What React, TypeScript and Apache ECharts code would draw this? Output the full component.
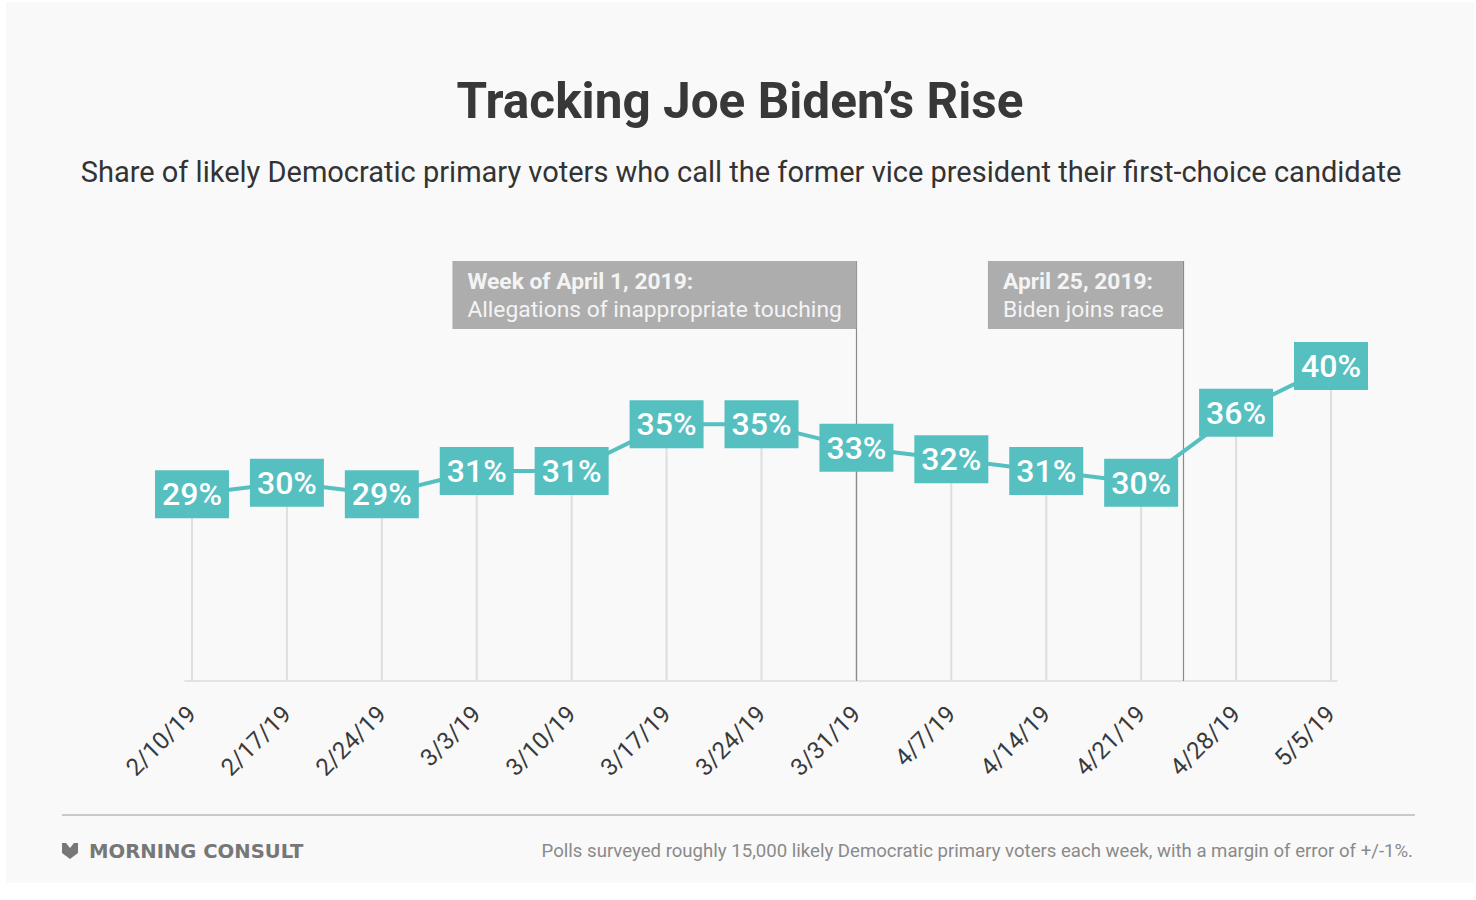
import React, { useEffect, useRef } from "react";
import * as echarts from "echarts";

const weeks = ["2/10/19", "2/17/19", "2/24/19", "3/3/19", "3/10/19", "3/17/19", "3/24/19", "3/31/19", "4/7/19", "4/14/19", "4/21/19", "4/28/19", "5/5/19"];
const bidenShare = [29, 30, 29, 31, 31, 35, 35, 33, 32, 31, 30, 36, 40];
const annotationPositions = [7, 10.44];
const annotationTitles = ["Week of April 1, 2019:", "April 25, 2019:"];
const annotationTexts = ["Allegations of inappropriate touching", "Biden joins race"];
const annotationBoxWidths = [374, 165];

const TITLE = "Tracking Joe Biden\u2019s Rise";
const SUBTITLE = "Share of likely Democratic primary voters who call the former vice president their first-choice candidate";
const FOOTNOTE = "Polls surveyed roughly 15,000 likely Democratic primary voters each week, with a margin of error of +/-1%.";

const TEAL = "#56c0c1";
const Y_MIN = 13;
const Y_MAX = 49;

export default function App() {
  const ref = useRef<HTMLDivElement>(null);
  useEffect(() => {
    document.body.style.margin = "0";
    const chart = echarts.init(ref.current!, null, { renderer: "svg" });
    const gridMain = { left: 192, right: 145, top: 261, bottom: 219 };
    const option: any = {
      animation: false,
      backgroundColor: "#ffffff",
      textStyle: { fontFamily: "Roboto" },
      grid: [gridMain, { left: 185, right: 139, top: 261, bottom: 219 }],
      xAxis: [
        {
          type: "category",
          gridIndex: 0,
          data: weeks,
          boundaryGap: false,
          axisLine: { show: false },
          axisTick: { show: false },
          splitLine: { show: false },
          axisLabel: { rotate: 45, fontSize: 24, color: "#3a3a3a", margin: 29, fontFamily: "Roboto" },
        },
        { type: "value", gridIndex: 0, min: 0, max: weeks.length - 1, show: false },
        {
          type: "value",
          gridIndex: 1,
          min: 0,
          max: 1,
          axisLine: { show: true, lineStyle: { color: "#dcdcdc", width: 1.5 } },
          axisTick: { show: false },
          axisLabel: { show: false },
          splitLine: { show: false },
        },
      ],
      yAxis: [
        { type: "value", gridIndex: 0, min: Y_MIN, max: Y_MAX, show: false },
        { type: "value", gridIndex: 1, min: 0, max: 1, show: false },
      ],
      series: [
        {
          type: "bar",
          xAxisIndex: 0,
          yAxisIndex: 0,
          data: bidenShare,
          barWidth: 2,
          itemStyle: { color: "#dedede" },
          z: 1,
          silent: true,
        },
        {
          type: "line",
          xAxisIndex: 1,
          yAxisIndex: 0,
          data: [],
          z: 2,
          markLine: {
            silent: true,
            symbol: "none",
            label: { show: false },
            lineStyle: { color: "#8a8a8a", width: 1.2, type: "solid" },
            data: annotationPositions.map((p) => [{ coord: [p, Y_MIN] }, { coord: [p, Y_MAX] }]),
          },
          markPoint: {
            silent: true,
            symbol: "rect",
            symbolSize: 0,
            data: annotationPositions.map((p, i) => ({
              coord: [p, Y_MAX],
              label: {
                show: true,
                position: [-(annotationBoxWidths[i] + 30), 0],
                align: "left",
                verticalAlign: "top",
                width: annotationBoxWidths[i],
                backgroundColor: "#adadad",
                padding: [6, 15, 6, 15],
                formatter: "{b|" + annotationTitles[i] + "}\n{r|" + annotationTexts[i] + "}",
                rich: {
                  b: { fontSize: 22.8, fontWeight: "bold", color: "#f4f4f4", lineHeight: 28, fontFamily: "Roboto" },
                  r: { fontSize: 22.8, fontWeight: "normal", color: "#f4f4f4", lineHeight: 28, fontFamily: "Roboto" },
                },
              },
            })),
          },
        },
        {
          type: "line",
          xAxisIndex: 0,
          yAxisIndex: 0,
          data: bidenShare,
          z: 5,
          symbol: "circle",
          symbolSize: 1,
          itemStyle: { color: TEAL },
          lineStyle: { color: TEAL, width: 4 },
          label: {
            show: true,
            position: "inside",
            formatter: "{c}%",
            fontSize: 32,
            fontWeight: 500,
            fontFamily: "Roboto",
            color: "#ffffff",
            backgroundColor: TEAL,
            width: 58,
            align: "center",
            lineHeight: 36,
            padding: [6, 8, 6, 8],
          },
        },
      ],
      graphic: [
        { type: "rect", z: -10, silent: true, shape: { x: 6, y: 2, width: 1468, height: 881 }, style: { fill: "#f9f9f9" } },
        {
          type: "text",
          x: 740,
          y: 101,
          style: { text: TITLE, fontSize: 49.5, fontWeight: "bold", fontFamily: "Roboto", fill: "#383838", align: "center", verticalAlign: "middle" },
        },
        {
          type: "text",
          x: 741,
          y: 172,
          style: { text: SUBTITLE, fontSize: 29, fontFamily: "Roboto", fill: "#333333", align: "center", verticalAlign: "middle" },
        },
        { type: "line", shape: { x1: 62, y1: 815, x2: 1415, y2: 815 }, style: { stroke: "#9a9a9a", lineWidth: 1 } },
        {
          type: "polygon",
          shape: { points: [[62, 843], [66, 843], [70, 848], [74, 843], [78, 843], [78, 853], [70, 859], [62, 853]] },
          style: { fill: "#777777" },
        },
        {
          type: "text",
          x: 89,
          y: 851,
          style: { text: "MORNING CONSULT", fontSize: 19.6, fontWeight: "bold", fontFamily: "DejaVu Sans", fill: "#777777", align: "left", verticalAlign: "middle" },
        },
        {
          type: "text",
          x: 1413,
          y: 851,
          style: { text: FOOTNOTE, fontSize: 18.6, fontFamily: "Roboto", fill: "#8a8a8a", align: "right", verticalAlign: "middle" },
        },
      ],
    };
    chart.setOption(option);
    return () => chart.dispose();
  }, []);
  return <div ref={ref} style={{ position: "absolute", left: 0, top: 0, width: 1476, height: 900 }} />;
}
